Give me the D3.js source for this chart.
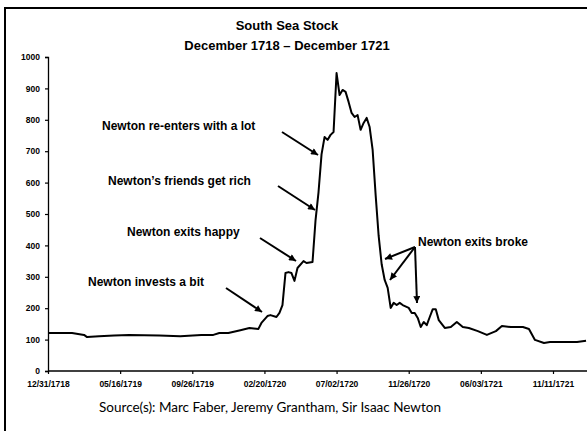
<!DOCTYPE html>
<html><head><meta charset="utf-8">
<script src="https://cdn.jsdelivr.net/npm/d3@7/dist/d3.min.js"></script>
<style>body{margin:0;background:#fff}svg{display:block}</style>
</head><body>
<svg id="c" width="587" height="431"></svg>
<script>
// observation index (uniform category spacing) and price
const obsIndex = [0,8,12,13,17,22,27,37,44,51,55,57,60,64,67,70,71,73,74,76,77,78,79,80,81,82,83,85,86,88,89,90,91,92,93,94,95,96,97,98,99,100,101,102,103,104,105,106,107,108,109,110,111,112,113,114,115,116,117,118,120,121,122,123,124,125,126,127,128,129,130,132,134,136,138,140,143,146,149,151,154,158,160,162,165,167,171,176,179];
const price = [121,121,115,108,111,113,115,113,111,115,115,121,121,130,137,134,153,175,178,172,185,210,312,315,312,287,328,350,344,347,480,570,690,745,736,752,761,949,879,895,889,857,822,809,815,768,790,806,777,704,560,430,340,290,265,201,217,210,217,210,201,185,185,169,140,156,146,172,197,197,162,137,140,156,140,137,127,115,127,143,140,140,134,99,89,92,92,92,96];
const tickIndex = [0,24,48,72,96,120,144,168];
const tickLabels = ["12/31/1718","05/16/1719","09/26/1719","02/20/1720","07/02/1720","11/26/1720","06/03/1721","11/11/1721"];
const yTicks = [0,100,200,300,400,500,600,700,800,900,1000];
const titleLines = ["South Sea Stock","December 1718 \u2013 December 1721"];
const sourceText = "Source(s): Marc Faber, Jeremy Grantham, Sir Isaac Newton";
const notes = [
  {text:"Newton re-enters with a lot", at:92},
  {text:"Newton\u2019s friends get rich", at:90},
  {text:"Newton exits happy", at:83},
  {text:"Newton invests a bit", at:71}
];
const brokeText = "Newton exits broke";

const svg = d3.select("#c");
const F = "'Liberation Sans', Arial, sans-serif";
svg.append("defs").append("marker").attr("id","ah")
  .attr("viewBox","0 0 10 10").attr("refX",10).attr("refY",5)
  .attr("markerWidth",8).attr("markerHeight",7).attr("markerUnits","userSpaceOnUse")
  .attr("orient","auto").append("path").attr("d","M0,0L10,5L0,10z").attr("fill","#000");

svg.append("rect").attr("x",5).attr("y",8).attr("width",620).attr("height",460)
  .attr("fill","none").attr("stroke","#000").attr("stroke-width",2);

const x = d3.scaleLinear().domain([0,168]).range([48,553]);
const y = d3.scaleLinear().domain([0,1000]).range([371,57]);

// title
svg.selectAll("text.title").data(titleLines).join("text").attr("class","title")
  .attr("x",287).attr("y",(d,i)=>30+i*20).attr("text-anchor","middle")
  .attr("font-family",F).attr("font-weight","bold").attr("font-size",13).text(d=>d);

// y axis
const ya = svg.append("g").attr("transform","translate(48,0)")
  .call(d3.axisLeft(y).tickValues(yTicks).tickFormat(d3.format("d")).tickSize(3).tickPadding(5));
ya.select(".domain").attr("stroke-width",1.3);
ya.selectAll(".tick line").attr("stroke-width",1.2);
ya.selectAll("text").attr("font-family",F).attr("font-weight","bold").attr("font-size",8.5);

// x axis
const xa = svg.append("g").attr("transform","translate(0,371)")
  .call(d3.axisBottom(x).tickValues(tickIndex).tickFormat((d,i)=>tickLabels[i]).tickSize(3).tickSizeOuter(0).tickPadding(7));
xa.select(".domain").attr("d","M48,0H587").attr("stroke-width",1.3);
xa.selectAll(".tick line").attr("stroke-width",1.2);
xa.selectAll("text").attr("font-family",F).attr("font-weight","bold").attr("font-size",8.5);

// line
const pts = obsIndex.map((d,i)=>[d,price[i]]);
svg.append("path").datum(pts).attr("fill","none").attr("stroke","#000")
  .attr("stroke-width",2).attr("stroke-linejoin","round")
  .attr("d",d3.line().x(d=>x(d[0])).y(d=>y(d[1])));

// annotations
const noteLayout = [
  {tx:102, ty:130, x1:282, y1:132, x2:318, y2:155},
  {tx:108, ty:185, x1:278, y1:186, x2:315, y2:210},
  {tx:127, ty:236, x1:260, y1:238, x2:296, y2:261},
  {tx:88,  ty:286, x1:226, y1:288, x2:262, y2:312}
];
notes.forEach((n,i)=>{
  const L = noteLayout[i];
  svg.append("text").attr("x",L.tx).attr("y",L.ty).attr("font-family",F)
    .attr("font-weight","bold").attr("font-size",12).text(n.text);
  svg.append("line").attr("x1",L.x1).attr("y1",L.y1).attr("x2",L.x2).attr("y2",L.y2)
    .attr("stroke","#000").attr("stroke-width",2).attr("marker-end","url(#ah)");
});
svg.append("text").attr("x",418).attr("y",246).attr("font-family",F)
  .attr("font-weight","bold").attr("font-size",12).text(brokeText);
[[385,259],[390,280],[417,303]].forEach(p=>{
  svg.append("line").attr("x1",415).attr("y1",247).attr("x2",p[0]).attr("y2",p[1])
    .attr("stroke","#000").attr("stroke-width",2).attr("marker-end","url(#ah)");
});

// source
svg.append("text").attr("x",270).attr("y",412).attr("text-anchor","middle")
  .attr("font-family","Lato, 'Open Sans', sans-serif").attr("font-size",13.5).text(sourceText);
</script>
</body></html>
